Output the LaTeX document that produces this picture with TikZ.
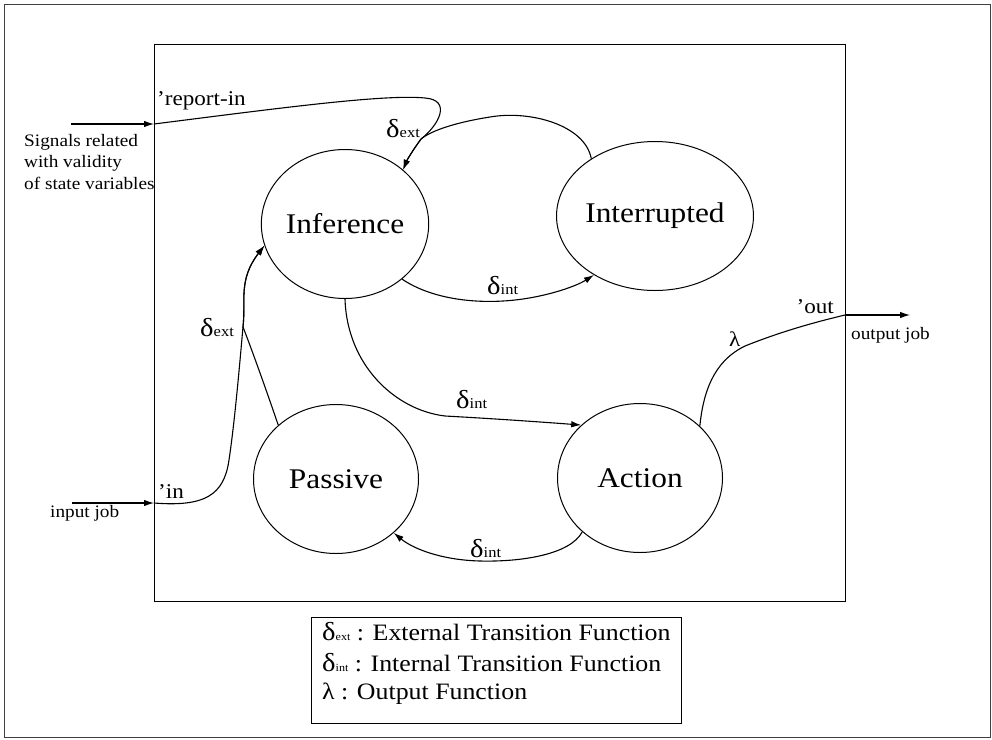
\documentclass[tikz,border=0pt]{standalone}
\usepackage{fontspec}
\setmainfont{Liberation Serif}[FakeStretch=1.1]
\usetikzlibrary{arrows.meta,shapes.geometric}

% delta with a small trailing index: size of delta, size of index, index
\newcommand\dsub[3]{{\fontsize{#1}{#1}\selectfont δ}{\fontsize{#2}{#2}\selectfont #3}}

\begin{document}
\begin{tikzpicture}[x=1pt,y=-1pt,
  state/.style={draw, ellipse, line width=1pt, minimum width=165pt,
    minimum height=149pt, inner sep=0pt, font=\fontsize{28.5}{30}\selectfont},
  conn/.style={line width=1.1pt},
  arr/.style={conn, -{Latex[length=10pt,width=6.5pt]}},
  lbl/.style={inner sep=0pt, font=\fontsize{17.5}{20}\selectfont},
  port/.style={inner sep=0pt, font=\fontsize{21}{24}\selectfont},
  fn/.style={inner sep=0pt},
  legtxt/.style={inner sep=0pt, anchor=base west, font=\fontsize{23.5}{25}\selectfont},
]
\useasboundingbox (0,0) rectangle (992,739);

% frames
\draw[line width=0.8pt, black!75] (4,4) rectangle (990,737);
\draw[line width=1pt] (154,44) rectangle (845,601);

% states
\node[state] (inf)  at (345,224) {Inference};
\node[state] (intr) at (655,216) {Interrupted};
\node[state] (pas)  at (336,479) {Passive};
\node[state] (act)  at (640,478) {Action};

% report-in port and external transition into Inference
\coordinate (sigsrc) at (71,124);
\coordinate (rin) at (154,124);
\coordinate (jr) at (421,139);
\draw[arr] (sigsrc) -- (rin);
\draw[arr] (rin) .. controls (280,108) and (385,94) .. (425,98)
  .. controls (452,100) and (439,125) .. (jr)
  .. controls (413,150) and (407,160) .. (inf.43);
\draw[arr] (intr.138) .. controls (585,125) and (530,110) .. (490,117)
  .. controls (458,122) and (432,130) .. (jr)
  .. controls (413,150) and (407,160) .. (inf.43);
\node[fn, anchor=base west] (dext1) at (386,137) {\dsub{26}{15}{ext}};

% input port and external transition from Passive
\coordinate (jobsrc) at (72,503);
\coordinate (pin) at (154,503);
\coordinate (ji) at (243,327);
\draw[arr] (jobsrc) -- (pin);
\draw[arr] (pin) .. controls (205,507) and (224,495) .. (229,460)
  .. controls (235,420) and (240,360) .. (ji)
  .. controls (246,300) and (238,280) .. (inf.195);
\draw[arr] (pas.137) .. controls (268,395) and (252,350) .. (ji)
  .. controls (246,300) and (238,280) .. (inf.195);
\node[fn, anchor=base west] (dext2) at (200,336) {\dsub{26}{15}{ext}};

% internal transitions
\draw[arr] (inf.-44) .. controls (430,298) and (470,303) .. (503,301)
  .. controls (540,299) and (575,287) .. (intr.-136);
\node[fn, anchor=base west] (dint1) at (487,294) {\dsub{26}{15}{int}};

\draw[arr] (inf.south) .. controls (347,365) and (395,410) .. (445,416)
  .. controls (500,419) and (555,423) .. (act.138);
\node[fn, anchor=base west] (dint2) at (456,408) {\dsub{26}{15}{int}};

\draw[arr] (act.-137) .. controls (570,555) and (520,562) .. (480,561)
  .. controls (440,560) and (412,548) .. (pas.-43);
\node[fn, anchor=base west] (dint3) at (470,557) {\dsub{26}{15}{int}};

% output function and output port
\coordinate (pout) at (845,315);
\coordinate (jobdst) at (910,315);
\draw[conn] (act.41) .. controls (703,395) and (712,362) .. (745,346)
  .. controls (785,330) and (820,321) .. (pout);
\draw[arr] (pout) -- (jobdst);
\node[port, anchor=base west] (lam) at (729,346) {λ};

% port labels
\node[port, anchor=base west] (prep) at (157,105) {’report-in};
\node[port, anchor=base west] (pinl) at (158,498) {’in};
\node[port, anchor=base east] (poutl) at (834,313) {’out};
\node[lbl, anchor=base west] (sig1) at (24,146) {Signals related};
\node[lbl, anchor=base west] (sig2) at (24,167) {with validity};
\node[lbl, anchor=base west] (sig3) at (24,189) {of state variables};
\node[lbl, anchor=base west] (ijob) at (50,517) {input job};
\node[lbl, anchor=base west] (ojob) at (851,339) {output job};

% legend
\node[draw, line width=1pt, minimum width=370pt, minimum height=106pt,
  inner sep=0pt, anchor=north west] (legend) at (311,617) {};
\node[legtxt] (leg1) at (322,640) {\dsub{26}{11}{ext} : External Transition Function};
\node[legtxt] (leg2) at (322,671) {\dsub{26}{11}{int} : Internal Transition Function};
\node[legtxt] (leg3) at (322,699) {λ : Output Function};
\end{tikzpicture}
\end{document}
